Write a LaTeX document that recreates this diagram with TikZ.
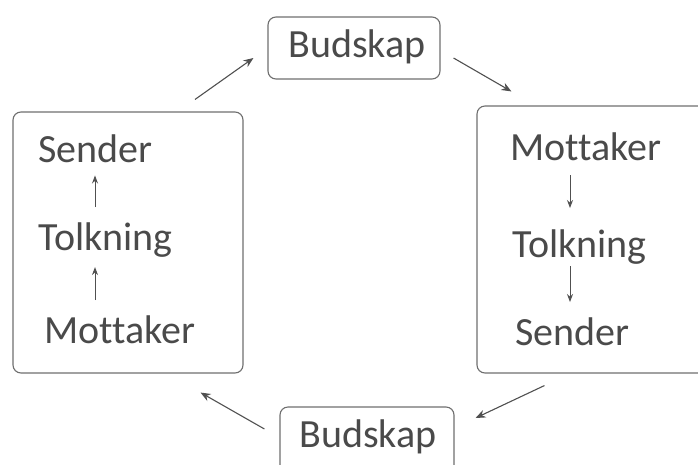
\documentclass[tikz,border=0pt]{standalone}
\usepackage{fontspec}
\setmainfont{Carlito}[Ligatures={NoCommon}]
\usetikzlibrary{arrows.meta,calc}
\definecolor{txt}{HTML}{4A4A4A}
\definecolor{frame}{HTML}{6E6E6E}
\definecolor{arr}{HTML}{505050}
\begin{document}
\begin{tikzpicture}[x=1pt,y=-1pt,
  boxframe/.style={draw=frame,line width=1.1pt,rounded corners=8pt,inner sep=0pt},
  word/.style={text=txt,font=\fontsize{40}{40}\selectfont,inner sep=0pt,anchor=base west},
  budtext/.style={text=txt,font=\fontsize{40}{40}\selectfont,inner sep=0pt,anchor=base},
  inarrow/.style={draw=arr,line width=1pt,-{Stealth[length=8pt,width=6pt]}},
  outarrow/.style={draw=arr,line width=1.1pt,-{Stealth[length=10pt,width=8pt]}}]
\useasboundingbox (0,0) rectangle (698,464);
% boxes
\node[boxframe,minimum width=230pt,minimum height=261pt] (lbox) at (128,242.5) {};
\node[boxframe,minimum width=240pt,minimum height=267pt] (rbox) at (597,239.5) {};
\node[boxframe,minimum width=172pt,minimum height=62pt] (tbud) at (354,48) {};
\node[boxframe,minimum width=174pt,minimum height=70pt] (bbud) at (367,442) {};
% texts
\node[budtext] (tbudt) at (357,57) {Budskap};
\node[budtext] (bbudt) at (368,447) {Budskap};
\node[word] (lsend) at (38,162) {Sender};
\node[word] (ltolk) at (38,250) {Tolkning};
\node[word] (lmott) at (44,343) {Mottaker};
\node[word] (rmott) at (510,160) {Mottaker};
\node[word] (rtolk) at (512,257) {Tolkning};
\node[word] (rsend) at (515,345) {Sender};
% inner arrows
\coordinate (xl) at (95,0);
\coordinate (xr) at (570,0);
\draw[inarrow,shorten <=15pt,shorten >=13pt] (ltolk.north -| xl) -- (lsend.south -| xl);
\draw[inarrow,shorten <=15pt,shorten >=10pt] (lmott.north -| xl) -- (ltolk.south -| xl);
\draw[inarrow,shorten <=15pt,shorten >=21pt] (rmott.south -| xr) -- (rtolk.north -| xr);
\draw[inarrow,shorten <=2pt,shorten >=15pt] (rtolk.south -| xr) -- (rsend.north -| xr);
% outer arrows
\draw[outarrow] ($(lbox.north)+(67,-12)$) -- ($(tbud.west)+(-14,10)$);
\draw[outarrow] ($(tbud.east)+(13,10)$) -- ($(rbox.north west)+(35,-14)$);
\draw[outarrow] ($(rbox.south west)+(68,12)$) -- ($(bbud.east)+(21,-24)$);
\draw[outarrow] ($(bbud.west)+(-15,-13)$) -- ($(lbox.south east)+(-43,19)$);
\end{tikzpicture}
\end{document}
